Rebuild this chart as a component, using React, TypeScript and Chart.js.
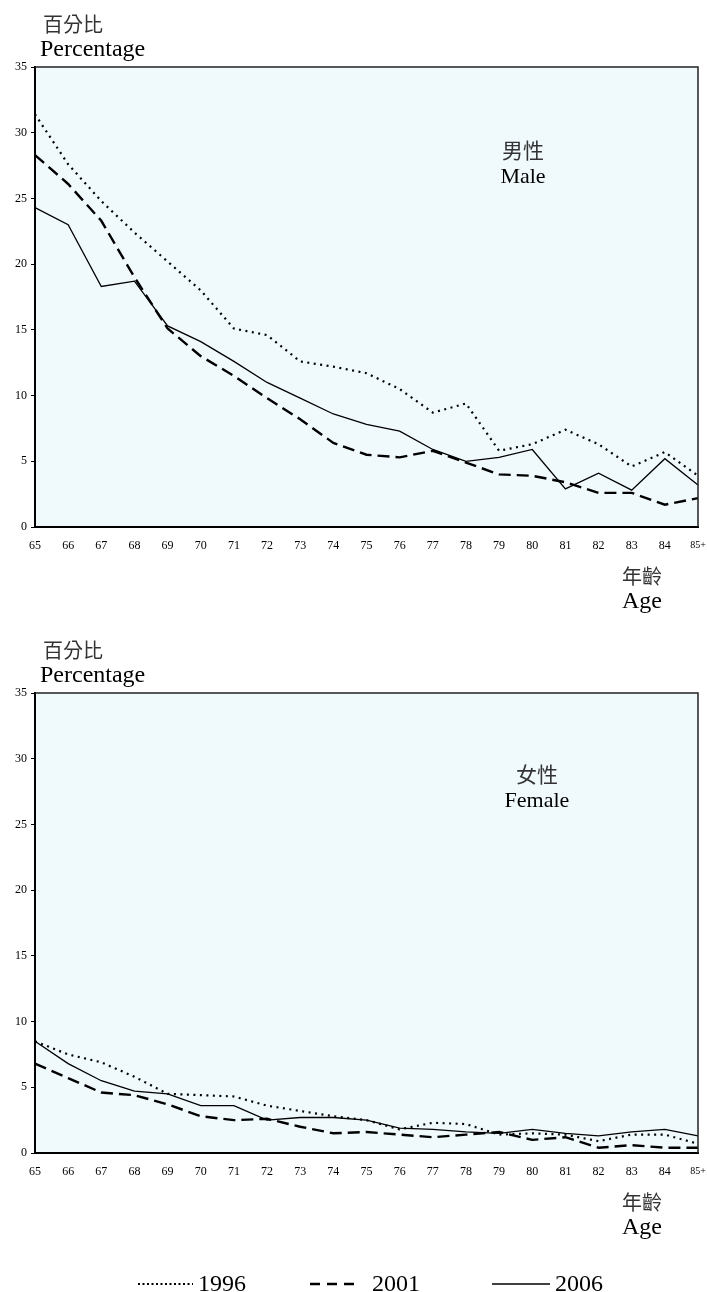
import React, { useEffect, useRef } from 'react';
import { Chart, registerables } from 'chart.js';

Chart.register(...registerables);

const ages = ['65', '66', '67', '68', '69', '70', '71', '72', '73', '74', '75', '76', '77', '78', '79', '80', '81', '82', '83', '84', '85+'];
const yTicks = [0, 5, 10, 15, 20, 25, 30, 35];

const male1996 = [31.4, 27.6, 24.8, 22.4, 20.2, 18.0, 15.1, 14.6, 12.6, 12.2, 11.7, 10.5, 8.7, 9.4, 5.8, 6.3, 7.4, 6.3, 4.6, 5.7, 3.9];
const male2001 = [28.3, 26.1, 23.3, 19.0, 15.1, 13.0, 11.5, 9.8, 8.2, 6.4, 5.5, 5.3, 5.8, 4.9, 4.0, 3.9, 3.4, 2.6, 2.6, 1.7, 2.2];
const male2006 = [24.3, 23.0, 18.3, 18.7, 15.3, 14.1, 12.6, 11.0, 9.8, 8.6, 7.8, 7.3, 5.9, 5.0, 5.3, 5.9, 2.9, 4.1, 2.8, 5.2, 3.2];

const female1996 = [8.5, 7.5, 6.9, 5.8, 4.5, 4.4, 4.3, 3.6, 3.2, 2.8, 2.5, 1.8, 2.3, 2.2, 1.4, 1.5, 1.4, 0.9, 1.4, 1.4, 0.7];
const female2001 = [6.8, 5.7, 4.6, 4.4, 3.7, 2.8, 2.5, 2.6, 2.0, 1.5, 1.6, 1.4, 1.2, 1.4, 1.6, 1.0, 1.2, 0.4, 0.6, 0.4, 0.4];
const female2006 = [8.5, 6.8, 5.5, 4.7, 4.5, 3.6, 3.6, 2.5, 2.7, 2.7, 2.5, 1.9, 1.8, 1.6, 1.5, 1.8, 1.5, 1.3, 1.6, 1.8, 1.3];

const seriesNames = ['1996', '2001', '2006'];

const SERIF = '"Liberation Serif", "Times New Roman", serif';
const CJK = '"Noto Sans CJK TC", "Noto Sans CJK SC", sans-serif';
const BG = 'rgb(240,249,252)';

const DASHES: number[][] = [[2, 4.5], [12, 6], []];
const WIDTHS = [2.2, 2.4, 1.3];

function makeDatasets(values: number[][]) {
  return values.map((d, i) => ({
    label: seriesNames[i],
    data: d,
    borderColor: '#000',
    backgroundColor: '#000',
    borderWidth: WIDTHS[i],
    borderDash: DASHES[i],
    borderCapStyle: 'butt' as const,
    pointRadius: 0,
    tension: 0,
    fill: false,
  }));
}

const framePlugin = {
  id: 'frame',
  beforeDraw(chart: any) {
    const { ctx, chartArea: a } = chart;
    ctx.save();
    ctx.fillStyle = BG;
    ctx.fillRect(a.left, a.top, a.right - a.left, a.bottom - a.top);
    ctx.restore();
  },
  afterDraw(chart: any, _args: any, opts: any) {
    const { ctx, chartArea: a } = chart;
    ctx.save();
    ctx.strokeStyle = '#222';
    ctx.lineWidth = 1.5;
    ctx.beginPath();
    ctx.moveTo(a.left, a.top);
    ctx.lineTo(a.right, a.top);
    ctx.lineTo(a.right, a.bottom);
    ctx.stroke();

    ctx.fillStyle = '#333';
    ctx.font = `20px ${CJK}`;
    ctx.textAlign = 'left';
    ctx.textBaseline = 'middle';
    ctx.fillText('百分比', 43, a.top - 43);
    ctx.fillStyle = '#000';
    ctx.font = `24px ${SERIF}`;
    ctx.textBaseline = 'alphabetic';
    ctx.fillText('Percentage', 40, a.top - 11);

    ctx.textAlign = 'center';
    ctx.fillStyle = '#333';
    ctx.font = `21px ${CJK}`;
    ctx.textBaseline = 'middle';
    ctx.fillText(opts.zh, opts.cx, a.top + opts.dyZh);
    ctx.fillStyle = '#000';
    ctx.font = `22px ${SERIF}`;
    ctx.textBaseline = 'alphabetic';
    ctx.fillText(opts.en, opts.cx, a.top + opts.dyEn);

    ctx.textAlign = 'left';
    ctx.fillStyle = '#333';
    ctx.font = `20px ${CJK}`;
    ctx.textBaseline = 'middle';
    ctx.fillText('年齡', 622, a.bottom + 49);
    ctx.fillStyle = '#000';
    ctx.font = `24px ${SERIF}`;
    ctx.textBaseline = 'alphabetic';
    ctx.fillText('Age', 622, a.bottom + 81);

    if (opts.legend) {
      const items = [
        { x1: 138, x2: 193, tx: 198 },
        { x1: 310, x2: 360, tx: 372 },
        { x1: 492, x2: 550, tx: 555 },
      ];
      const ly = a.bottom + 131;
      items.forEach((it, i) => {
        ctx.strokeStyle = '#000';
        ctx.lineWidth = i === 0 ? 2 : WIDTHS[i];
        ctx.setLineDash(i === 0 ? [2, 2.5] : i === 1 ? [10, 7] : []);
        ctx.beginPath();
        ctx.moveTo(it.x1, ly);
        ctx.lineTo(it.x2, ly);
        ctx.stroke();
        ctx.setLineDash([]);
        ctx.fillStyle = '#000';
        ctx.font = `24px ${SERIF}`;
        ctx.textAlign = 'left';
        ctx.textBaseline = 'alphabetic';
        ctx.fillText(seriesNames[i], it.tx, ly + 7);
      });
    }
    ctx.restore();
  },
};

function buildConfig(values: number[][], padding: any, frameOpts: any) {
  return {
    type: 'line' as const,
    data: { labels: ages, datasets: makeDatasets(values) },
    plugins: [framePlugin],
    options: {
      animation: false as const,
      responsive: false,
      maintainAspectRatio: false,
      layout: { padding },
      plugins: {
        legend: { display: false },
        tooltip: { enabled: false },
        frame: frameOpts,
      },
      scales: {
        x: {
          type: 'category' as const,
          offset: false,
          grid: { display: true, drawOnChartArea: false, drawTicks: false },
          border: { display: true, color: '#000', width: 2 },
          ticks: {
            color: '#000',
            autoSkip: false,
            maxRotation: 0,
            padding: 12,
            font: (c: any) => ({ family: SERIF, size: c.index === ages.length - 1 ? 10 : 12 }),
          },
          afterFit(s: any) {
            s.height = 40;
            s.paddingLeft = 0;
            s.paddingRight = 0;
          },
        },
        y: {
          min: yTicks[0],
          max: yTicks[yTicks.length - 1],
          afterBuildTicks(s: any) { s.ticks = yTicks.map((v) => ({ value: v })); },
          grid: { display: true, drawOnChartArea: false, drawTicks: true, tickLength: 4, color: '#000' },
          border: { display: true, color: '#000', width: 2 },
          ticks: { color: '#000', padding: 4, font: { family: SERIF, size: 12 } },
          afterFit(s: any) {
            s.width = 35;
            s.paddingTop = 0;
            s.paddingBottom = 0;
          },
        },
      },
    },
  };
}

function Panel({ top, height, values, padding, frameOpts }: any) {
  const ref = useRef<HTMLCanvasElement>(null);
  useEffect(() => {
    if (!ref.current) return;
    const chart = new Chart(ref.current, buildConfig(values, padding, frameOpts) as any);
    return () => chart.destroy();
  }, []);
  return (
    <canvas
      ref={ref}
      width={707}
      height={height}
      style={{ position: 'absolute', left: 0, top, width: 707, height }}
    />
  );
}

export default function App() {
  return (
    <div style={{ position: 'absolute', left: 0, top: 0, width: 707, height: 1292, background: '#fff', overflow: 'hidden' }}>
      <Panel
        top={0}
        height={630}
        values={[male1996, male2001, male2006]}
        padding={{ top: 67, left: 0, right: 9, bottom: 63 }}
        frameOpts={{ zh: '男性', en: 'Male', cx: 523, dyZh: 83, dyEn: 116, legend: false }}
      />
      <Panel
        top={630}
        height={662}
        values={[female1996, female2001, female2006]}
        padding={{ top: 63, left: 0, right: 9, bottom: 99 }}
        frameOpts={{ zh: '女性', en: 'Female', cx: 537, dyZh: 81, dyEn: 114, legend: true }}
      />
    </div>
  );
}
